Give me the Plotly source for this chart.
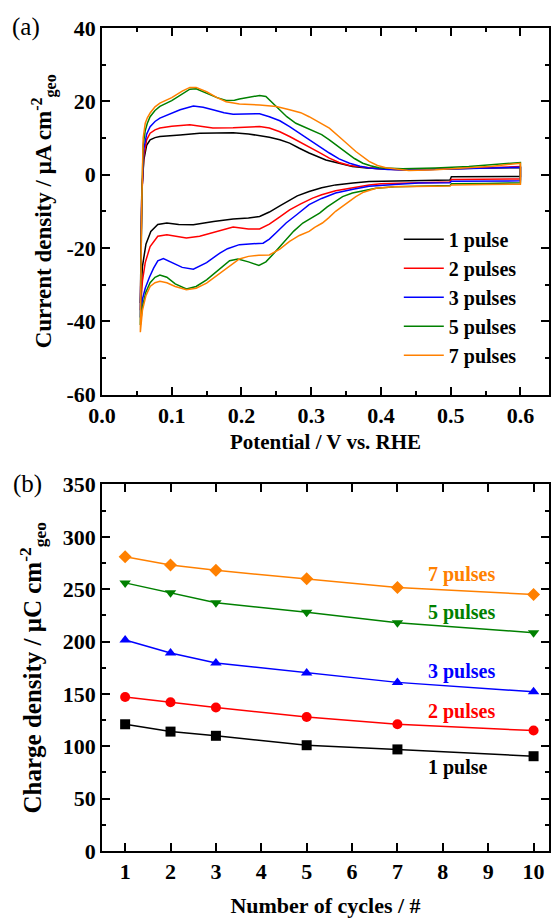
import plotly.graph_objects as go

# ---------------- Panel (a): cyclic voltammograms ----------------
labels = ["1 pulse", "2 pulses", "3 pulses", "5 pulses", "7 pulses"]
colors = ["#000000", "#ff0000", "#0000ff", "#008000", "#ff8000"]

# anodic (upper) and cathodic (lower) branches
E_an_1 = [0.055, 0.0555, 0.057, 0.060, 0.064, 0.069, 0.076, 0.083, 0.095, 0.112, 0.14, 0.165, 0.188, 0.21, 0.226, 0.24, 0.255, 0.269, 0.283, 0.297, 0.321, 0.34, 0.359, 0.38, 0.407, 0.43, 0.454, 0.48, 0.5, 0.55, 0.6]
j_an_1 = [-35, -20, -5, 4, 8, 9.5, 10.1, 10.4, 10.5, 10.8, 11.3, 11.4, 11.4, 11.1, 10.7, 10.2, 9.5, 8.6, 7.2, 5.9, 4.0, 3.0, 2.2, 1.8, 1.5, 1.3, 1.3, 1.5, 1.6, 1.8, 1.9]
E_ca_1 = [0.6, 0.55, 0.501, 0.499, 0.45, 0.4, 0.383, 0.36, 0.335, 0.315, 0.297, 0.28, 0.269, 0.255, 0.24, 0.226, 0.21, 0.188, 0.16, 0.131, 0.11, 0.093, 0.08, 0.07, 0.063, 0.058, 0.055]
j_ca_1 = [-0.5, -0.55, -0.6, -1.5, -1.6, -1.8, -1.9, -2.3, -2.8, -3.6, -4.6, -5.8, -6.9, -8.5, -10.2, -11.4, -11.8, -12.1, -12.8, -13.7, -13.6, -13.2, -13.6, -15.5, -19, -25, -35]

E_an_2 = [0.055, 0.0555, 0.057, 0.060, 0.064, 0.069, 0.076, 0.083, 0.1, 0.126, 0.145, 0.159, 0.188, 0.21, 0.226, 0.24, 0.255, 0.269, 0.283, 0.297, 0.312, 0.326, 0.34, 0.355, 0.375, 0.393, 0.42, 0.454, 0.5, 0.55, 0.6]
j_an_2 = [-37, -22, -6, 5, 9.5, 11.3, 12.2, 12.7, 13.2, 13.6, 13.2, 12.7, 12.8, 13.0, 13.1, 12.7, 11.7, 10.4, 9.0, 7.7, 6.0, 4.5, 3.3, 2.5, 2.0, 1.7, 1.4, 1.3, 1.6, 1.9, 2.2]
E_ca_2 = [0.6, 0.55, 0.501, 0.499, 0.45, 0.431, 0.4, 0.383, 0.36, 0.335, 0.315, 0.302, 0.285, 0.269, 0.255, 0.24, 0.226, 0.21, 0.188, 0.17, 0.159, 0.14, 0.121, 0.105, 0.093, 0.08, 0.069, 0.062, 0.058, 0.055]
j_ca_2 = [-1.2, -1.25, -1.3, -2.0, -2.2, -2.3, -2.5, -2.8, -3.5, -4.4, -5.5, -6.4, -8.0, -9.6, -11.5, -13.5, -14.8, -14.8, -14.3, -15.2, -15.9, -16.8, -17.3, -16.9, -16.4, -16.8, -19.6, -24, -29, -37]

E_an_3 = [0.055, 0.0555, 0.057, 0.060, 0.064, 0.069, 0.076, 0.083, 0.1, 0.112, 0.131, 0.145, 0.159, 0.175, 0.188, 0.21, 0.226, 0.24, 0.255, 0.269, 0.283, 0.297, 0.312, 0.326, 0.34, 0.355, 0.37, 0.383, 0.41, 0.431, 0.47, 0.502, 0.55, 0.6]
j_an_3 = [-39, -24, -6, 7, 11, 13.1, 14.5, 15.4, 16.8, 17.7, 18.7, 18.4, 17.7, 16.9, 16.5, 16.5, 16.6, 15.8, 14.7, 13.1, 11.3, 9.5, 7.6, 5.9, 4.3, 3.1, 2.3, 1.8, 1.4, 1.3, 1.4, 1.5, 1.8, 2.0]
E_ca_3 = [0.6, 0.55, 0.501, 0.499, 0.454, 0.42, 0.383, 0.36, 0.335, 0.315, 0.297, 0.28, 0.264, 0.25, 0.24, 0.231, 0.215, 0.197, 0.18, 0.169, 0.15, 0.131, 0.115, 0.1, 0.088, 0.08, 0.074, 0.068, 0.062, 0.058, 0.055]
j_ca_3 = [-1.7, -1.75, -1.8, -2.2, -2.3, -2.7, -3.2, -4.0, -5.0, -6.5, -8.2, -10.8, -13.2, -15.8, -17.6, -18.7, -18.9, -19.1, -20.2, -21.4, -24.0, -25.8, -25.3, -24.0, -22.9, -23.5, -25.5, -28, -31, -34, -39]

E_an_5 = [0.055, 0.0555, 0.057, 0.059, 0.062, 0.065, 0.069, 0.076, 0.083, 0.1, 0.115, 0.126, 0.135, 0.15, 0.165, 0.178, 0.19, 0.197, 0.21, 0.226, 0.235, 0.245, 0.255, 0.265, 0.278, 0.29, 0.302, 0.315, 0.326, 0.338, 0.35, 0.362, 0.374, 0.385, 0.397, 0.431, 0.478, 0.526, 0.6]
j_an_5 = [-41, -26, -8, 8, 12, 14, 15.8, 17.5, 18.6, 20.2, 22.0, 23.3, 23.4, 22.2, 21.0, 20.2, 20.3, 20.6, 21.0, 21.6, 21.3, 19.5, 17.7, 15.8, 14.0, 13.0, 12.2, 10.9, 9.5, 7.8, 5.9, 4.4, 3.1, 2.4, 1.9, 1.6, 1.8, 2.2, 3.3]
E_ca_5 = [0.6, 0.55, 0.501, 0.499, 0.454, 0.42, 0.393, 0.375, 0.359, 0.345, 0.335, 0.323, 0.312, 0.3, 0.288, 0.275, 0.264, 0.255, 0.245, 0.235, 0.225, 0.21, 0.195, 0.183, 0.17, 0.15, 0.135, 0.121, 0.105, 0.093, 0.083, 0.076, 0.069, 0.063, 0.058, 0.055]
j_ca_5 = [-2.2, -2.4, -2.5, -3.0, -3.1, -3.3, -3.7, -4.3, -5.0, -6.0, -7.3, -8.8, -10.5, -11.8, -13.2, -15.4, -17.8, -19.6, -21.8, -23.8, -24.8, -23.8, -23.0, -23.5, -25.5, -28.7, -30.5, -31.2, -29.8, -28.0, -27.4, -28.0, -29.5, -32, -36, -41]

E_an_7 = [0.055, 0.0555, 0.057, 0.059, 0.062, 0.065, 0.069, 0.076, 0.083, 0.1, 0.115, 0.126, 0.135, 0.15, 0.165, 0.178, 0.197, 0.226, 0.25, 0.269, 0.285, 0.297, 0.31, 0.326, 0.345, 0.364, 0.383, 0.395, 0.407, 0.44, 0.478, 0.526, 0.56, 0.6]
j_an_7 = [-43, -28, -8, 10, 14, 15.5, 16.8, 18.5, 19.5, 21.0, 22.8, 23.8, 23.8, 22.6, 21.0, 19.9, 19.3, 19.0, 18.6, 17.7, 16.9, 15.8, 14.5, 12.7, 9.5, 6.3, 3.6, 2.5, 1.9, 1.1, 1.3, 1.8, 2.3, 3.1]
E_ca_7 = [0.6, 0.55, 0.501, 0.499, 0.45, 0.42, 0.393, 0.375, 0.364, 0.35, 0.335, 0.325, 0.316, 0.305, 0.297, 0.283, 0.269, 0.255, 0.24, 0.225, 0.21, 0.197, 0.183, 0.17, 0.15, 0.135, 0.121, 0.105, 0.093, 0.083, 0.076, 0.069, 0.063, 0.058, 0.055]
j_ca_7 = [-2.6, -2.7, -2.8, -3.1, -3.2, -3.3, -3.7, -4.8, -6.0, -8.0, -10.0, -11.8, -13.2, -14.4, -15.5, -16.6, -18.2, -20.3, -21.9, -22.0, -22.3, -23.0, -25.0, -27.0, -29.6, -31.0, -31.4, -30.5, -29.5, -29.1, -29.5, -30.5, -33, -37, -43]

cv_E = [E_an_1 + E_ca_1, E_an_2 + E_ca_2, E_an_3 + E_ca_3, E_an_5 + E_ca_5, E_an_7 + E_ca_7]
cv_j = [j_an_1 + j_ca_1, j_an_2 + j_ca_2, j_an_3 + j_ca_3, j_an_5 + j_ca_5, j_an_7 + j_ca_7]

# ---------------- Panel (b): charge density vs cycles ----------------
cycles = [1, 2, 3, 5, 7, 10]
q_1 = [121, 114, 110, 101, 97, 90.5]
q_2 = [147, 142, 137, 128, 121, 115]
q_3 = [201.5, 189, 179.5, 170, 161, 152]
q_5 = [256, 246.5, 237, 228, 218, 208.5]
q_7 = [281, 273, 268, 260, 251.5, 245]
q_all = [q_1, q_2, q_3, q_5, q_7]
symbols = ["square", "circle", "triangle-up", "triangle-down", "diamond"]
label_y = [80, 133, 171.5, 227.5, 264]
label_x = 7.62

# tick labels
a_yvals = [-60, -40, -20, 0, 20, 40]
a_ytext = ["-60", "-40", "-20", "0", "20", "40"]
b_xvals = [1, 2, 3, 4, 5, 6, 7, 8, 9, 10]

FONT = "Liberation Serif, Times New Roman, serif"
tickfont = dict(family=FONT, size=22, color="black", weight="bold")
xtitlefont = dict(family=FONT, size=21, color="black", weight="bold")
xtitlefont2 = dict(family=FONT, size=22, color="black", weight="bold")
ytitlefont = dict(family=FONT, size=23, color="black", weight="bold")
ytitlefont2 = dict(family=FONT, size=25, color="black", weight="bold")

fig = go.Figure()
for i in range(5):
    fig.add_trace(go.Scatter(x=cv_E[i], y=cv_j[i], mode="lines", name=labels[i],
                             line=dict(color=colors[i], width=1.5), xaxis="x", yaxis="y"))
for i in range(5):
    fig.add_trace(go.Scatter(x=cycles, y=q_all[i], mode="lines+markers", showlegend=False,
                             line=dict(color=colors[i], width=1.5),
                             marker=dict(symbol=symbols[i], size=10, color=colors[i]),
                             xaxis="x2", yaxis="y2"))
    fig.add_annotation(x=label_x, y=label_y[i], xref="x2", yref="y2", text=labels[i],
                       showarrow=False, xanchor="left", yanchor="middle",
                       font=dict(family=FONT, size=20, color=colors[i], weight="bold"))

axis_common = dict(showline=True, linecolor="black", linewidth=1.5, mirror="ticks",
                   ticks="inside", ticklen=8, tickwidth=1.5, tickcolor="black",
                   showgrid=False, zeroline=False, tickfont=tickfont)

fig.update_layout(
    width=551, height=918,
    margin=dict(l=102, r=0, t=28, b=66),
    paper_bgcolor="white", plot_bgcolor="white",
    xaxis=dict(domain=[0, 1], anchor="y", range=[0, 0.641], dtick=0.1, tick0=0, tickformat=".1f",
               minor=dict(dtick=0.05, ticklen=4, tickwidth=1.5, ticks="inside", tickcolor="black"),
               title=dict(text="Potential / V vs. RHE", font=xtitlefont, standoff=8), **axis_common),
    yaxis=dict(domain=[0.5546, 1], anchor="x", range=[-60, 40], tickvals=a_yvals, ticktext=a_ytext,
               minor=dict(dtick=10, tick0=0, ticklen=4, tickwidth=1.5, ticks="inside", tickcolor="black"),
               title=dict(text="Current density / μA cm<sup>-2</sup><sub>geo</sub>", font=ytitlefont, standoff=8),
               **axis_common),
    xaxis2=dict(domain=[0, 1], anchor="y2", range=[0.49, 10.34], tickvals=b_xvals,
                title=dict(text="Number of cycles / #", font=xtitlefont2, standoff=18), **axis_common),
    yaxis2=dict(domain=[0, 0.4454], anchor="x2", range=[0, 350], dtick=50, tick0=0,
                minor=dict(dtick=25, tick0=0, ticklen=4, tickwidth=1.5, ticks="inside", tickcolor="black"),
                title=dict(text="Charge density / μC cm<sup>-2</sup><sub>geo</sub>", font=ytitlefont2, standoff=14),
                **axis_common),
    legend=dict(x=0.664, y=0.767, xanchor="left", yanchor="top", bgcolor="rgba(0,0,0,0)",
                font=dict(family=FONT, size=20, color="black", weight="bold"), itemwidth=40,
                tracegroupgap=0),
    showlegend=True,
)
fig.add_annotation(x=-0.169, y=1.0012, xref="paper", yref="paper", text="(a)", showarrow=False,
                   xanchor="center", yanchor="middle", font=dict(family=FONT, size=25, color="black"))
fig.add_annotation(x=-0.167, y=0.4454, xref="paper", yref="paper", text="(b)", showarrow=False,
                   xanchor="center", yanchor="middle", font=dict(family=FONT, size=25, color="black"))

fig.write_html("out.html")
